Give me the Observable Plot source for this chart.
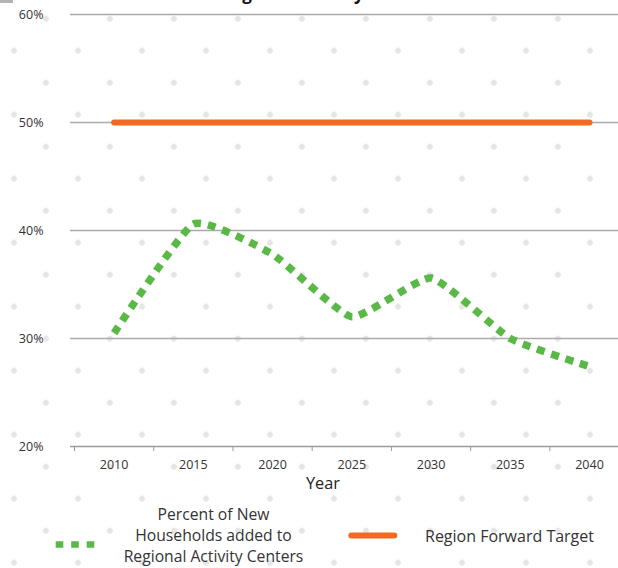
<!DOCTYPE html>
<html>
<head>
<meta charset="utf-8">
<script src="https://cdn.jsdelivr.net/npm/d3@7"></script>
<script src="https://cdn.jsdelivr.net/npm/@observablehq/plot@0.6"></script>
<style>
  html, body { margin: 0; padding: 0; }
  body {
    width: 618px; height: 568px; overflow: hidden; position: relative;
    background-color: #ffffff;
    background-image:
      radial-gradient(circle at 32px 32px, #e6e6e6 2.6px, rgba(255,255,255,0) 3.3px),
      radial-gradient(circle at 32px 32px, #e6e6e6 2.6px, rgba(255,255,255,0) 3.3px);
    background-size: 64px 64px, 64px 64px;
    background-position: 14px -13.3px, -18px 18.7px;
    font-family: "Open Sans", sans-serif;
    color: #333;
  }
  #chart { position: absolute; left: 0; top: 0; }
  .abs { position: absolute; white-space: nowrap; }
  #title { left: 221px; top: -16.1px; font-size: 17px; line-height: 20px; font-weight: bold; color: #111; }
  #corner { left: 0; top: 0; width: 13px; height: 3px; background: #b4b4b4; }
  #xlabel { left: 273px; width: 100px; text-align: center; top: 473px; font-size: 16.3px; line-height: 20px; color: #222; }
  #leg1 { left: 113.5px; width: 200px; text-align: center; top: 504.4px; font-size: 15.7px; line-height: 21px; }
  #leg2 { left: 425px; top: 526.1px; font-size: 16px; line-height: 20px; }
  #legsvg { position: absolute; left: 0; top: 0; }
</style>
</head>
<body>
<div id="chart"></div>
<script>
// ---- data ----
const years = [2010, 2015, 2020, 2025, 2030, 2035, 2040];
const householdsPct = [30.5, 40.6, 37.8, 32.0, 35.6, 30.0, 27.4];
const targetPct = [50, 50, 50, 50, 50, 50, 50];
const yTicks = [20, 30, 40, 50, 60];
const gridTicks = [30, 40, 50, 60];
const categoryEdges = [2007.5, 2012.5, 2017.5, 2022.5, 2027.5, 2032.5, 2037.5, 2042.5];
const seriesNames = ["Percent of New\nHouseholds added to\nRegional Activity Centers", "Region Forward Target"];
const seriesColors = ["#5ab946", "#f26a21"];
const titleText = "Regional Activity Centers";
const xLabel = "Year";

const gridColor = "#ababab";

const plot = Plot.plot({
  width: 618,
  height: 568,
  marginLeft: 70,
  marginRight: 0,
  marginTop: 14,
  marginBottom: 122,
  style: { background: "transparent", fontFamily: "Open Sans", fontSize: "12.5px", color: "#333", overflow: "hidden" },
  x: { type: "linear", domain: [2007.5, 2042.5], range: [74, 628.6] },
  y: { domain: [20, 60] },
  marks: [
    Plot.ruleY(gridTicks, { stroke: gridColor, strokeWidth: 1.3 }),
    Plot.ruleY([20], { stroke: "#9a9a9a", strokeWidth: 1.3 }),
    Plot.axisY(yTicks, { tickSize: 0, tickPadding: 27, tickFormat: d => d + "%", label: null, fill: "#333" }),
    Plot.axisX(categoryEdges, { tickSize: 5, tickFormat: () => "", label: null, stroke: "#9a9a9a" }),
    Plot.axisX(years, { tickSize: 0, tickPadding: 13.5, tickFormat: d => String(d), label: null, fill: "#333" }),
    Plot.line(targetPct, { x: years, y: targetPct, stroke: seriesColors[1], strokeWidth: 6, strokeLinecap: "round" }),
    Plot.line(householdsPct, { x: years, y: householdsPct, curve: "cardinal", tension: 0.55, stroke: seriesColors[0], strokeWidth: 7.5, strokeDasharray: "8,7", strokeLinecap: "butt", strokeLinejoin: "miter" })
  ]
});
document.getElementById("chart").appendChild(plot);

// ---- title (cut off at top, as in the reference), axis title and legend ----
function addDiv(id, text) {
  const d = document.createElement("div");
  d.id = id; d.className = "abs";
  d.innerHTML = text.split("\n").join("<br>");
  document.body.appendChild(d);
  return d;
}
addDiv("corner", "");
addDiv("title", titleText);
addDiv("xlabel", xLabel);
addDiv("leg1", seriesNames[0]);
addDiv("leg2", seriesNames[1]);

const ns = "http://www.w3.org/2000/svg";
const legSvg = document.createElementNS(ns, "svg");
legSvg.setAttribute("id", "legsvg");
legSvg.setAttribute("width", 618);
legSvg.setAttribute("height", 568);
function addLine(x1, x2, y, color, w, dash, cap) {
  const l = document.createElementNS(ns, "line");
  l.setAttribute("x1", x1); l.setAttribute("x2", x2);
  l.setAttribute("y1", y); l.setAttribute("y2", y);
  l.setAttribute("stroke", color); l.setAttribute("stroke-width", w);
  if (dash) l.setAttribute("stroke-dasharray", dash);
  l.setAttribute("stroke-linecap", cap);
  legSvg.appendChild(l);
}
addLine(55.7, 94.5, 544.5, seriesColors[0], 6.5, "7.6,7.9", "butt");
addLine(351.3, 394.3, 535.5, seriesColors[1], 6, null, "round");
document.body.appendChild(legSvg);
</script>
</body>
</html>
